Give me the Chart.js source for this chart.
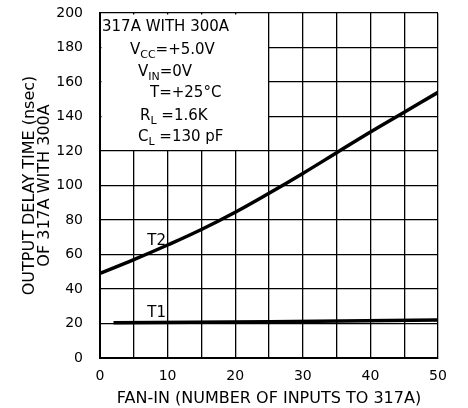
<!DOCTYPE html>
<html>
<head>
<meta charset="utf-8">
<script src="https://cdn.jsdelivr.net/npm/chart.js@4.4.1/dist/chart.umd.min.js"></script>
<style>
    html, body { margin: 0; padding: 0; background: #fff; }
    #wrap { width: 468px; height: 408px; }
</style>
</head>
<body>
<div id="wrap"><canvas id="chart" width="468" height="408"></canvas></div>
<script>
// fan-in values
const t2FanIn = [0, 5, 10, 15, 20, 25, 30, 35, 40, 45, 50];
const t2Delay = [49, 57, 65.5, 74.5, 84.5, 95.5, 107, 119, 131, 142.5, 154];
const t1FanIn = [2, 25, 50];
const t1Delay = [20.5, 21, 22];

const xTicks = [0, 10, 20, 30, 40, 50];
const yTicks = [0, 20, 40, 60, 80, 100, 120, 140, 160, 180, 200];

const curveLabels = [
    { text: "T2", x: 7, y: 68 },
    { text: "T1", x: 7, y: 26 }
];

// conditions box (covers fan-in 0..25, delay 120..200)
const boxRange = { x0: 0, x1: 25, y0: 120, y1: 200 };
const boxLines = [
    { dx: 2, dy: 14, parts: [["317A WITH 300A", false]] },
    { dx: 30, dy: 37, parts: [["V", false], ["CC", true], ["=+5.0V", false]] },
    { dx: 38, dy: 59, parts: [["V", false], ["IN", true], ["=0V", false]] },
    { dx: 50, dy: 80, parts: [["T=+25°C", false]] },
    { dx: 40, dy: 103, parts: [["R", false], ["L", true], [" =1.6K", false]] },
    { dx: 38, dy: 124, parts: [["C", false], ["L", true], [" =130 pF", false]] }
];

const FONT = "'DejaVu Sans', sans-serif";

const toPoints = (xs, ys) => xs.map((x, i) => ({ x: x, y: ys[i] }));

const boxPlugin = {
    id: 'boxPlugin',
    beforeDatasetsDraw(chart) {
        const { ctx, scales } = chart;
        const xs = scales.x;
        const ys = scales.y;
        const left = xs.getPixelForValue(boxRange.x0);
        const right = xs.getPixelForValue(boxRange.x1);
        const top = ys.getPixelForValue(boxRange.y1);
        const bottom = ys.getPixelForValue(boxRange.y0);

        ctx.save();
        ctx.fillStyle = '#fff';
        ctx.fillRect(left + 1.5, top + 1.5, right - left - 2.5, bottom - top - 2.5);

        ctx.fillStyle = '#000';
        ctx.textBaseline = 'middle';
        ctx.textAlign = 'left';
        for (const line of boxLines) {
            let x = left + line.dx;
            const y = top + line.dy;
            for (const [txt, sub] of line.parts) {
                ctx.font = sub ? `11px ${FONT}` : `15px ${FONT}`;
                ctx.fillText(txt, x, sub ? y + 5 : y);
                x += ctx.measureText(txt).width;
            }
        }
        ctx.restore();
    },
    afterDatasetsDraw(chart) {
        const { ctx, scales } = chart;
        ctx.save();
        ctx.fillStyle = '#000';
        ctx.font = `15px ${FONT}`;
        ctx.textAlign = 'left';
        ctx.textBaseline = 'middle';
        for (const l of curveLabels) {
            ctx.fillText(l.text, scales.x.getPixelForValue(l.x), scales.y.getPixelForValue(l.y));
        }
        ctx.restore();
    }
};

new Chart(document.getElementById('chart'), {
    type: 'line',
    data: {
        datasets: [{
            label: 'T2',
            data: toPoints(t2FanIn, t2Delay),
            borderColor: '#000',
            borderWidth: 3.5,
            pointRadius: 0,
            fill: false,
            tension: 0.4
        }, {
            label: 'T1',
            data: toPoints(t1FanIn, t1Delay),
            borderColor: '#000',
            borderWidth: 3.5,
            pointRadius: 0,
            fill: false,
            tension: 0
        }]
    },
    options: {
        responsive: false,
        animation: false,
        layout: {
            padding: { top: 13, right: 30, left: 0, bottom: 0 }
        },
        plugins: {
            legend: { display: false },
            tooltip: { enabled: false }
        },
        scales: {
            x: {
                type: 'linear',
                min: 0,
                max: 50,
                afterFit: (scale) => {
                    scale.height = 50;
                    scale.paddingLeft = 0;
                    scale.paddingRight = 0;
                },
                ticks: {
                    stepSize: 5,
                    color: '#000',
                    padding: 10,
                    font: { family: FONT, size: 14 },
                    callback: (v) => xTicks.includes(v) ? v : ''
                },
                grid: { color: '#000', lineWidth: 1.3, drawTicks: false },
                border: { color: '#000', width: 2 },
                title: {
                    display: true,
                    text: 'FAN-IN (NUMBER OF INPUTS TO 317A)',
                    color: '#000',
                    font: { family: FONT, size: 16 },
                    padding: { top: 2, bottom: 0 }
                }
            },
            y: {
                min: 0,
                max: 200,
                afterFit: (scale) => {
                    scale.width = 100;
                    scale.paddingTop = 0;
                    scale.paddingBottom = 0;
                },
                ticks: {
                    stepSize: 20,
                    color: '#000',
                    padding: 17,
                    font: { family: FONT, size: 14 },
                    callback: (v) => yTicks.includes(v) ? v : ''
                },
                grid: { color: '#000', lineWidth: 1.3, drawTicks: false },
                border: { color: '#000', width: 2 },
                title: {
                    display: true,
                    text: ['OUTPUT DELAY TIME (nsec)', 'OF 317A WITH 300A'],
                    color: '#000',
                    font: { family: FONT, size: 16, lineHeight: 0.95 },
                    padding: { top: 22, bottom: 0 }
                }
            }
        }
    },
    plugins: [boxPlugin]
});
</script>
</body>
</html>
